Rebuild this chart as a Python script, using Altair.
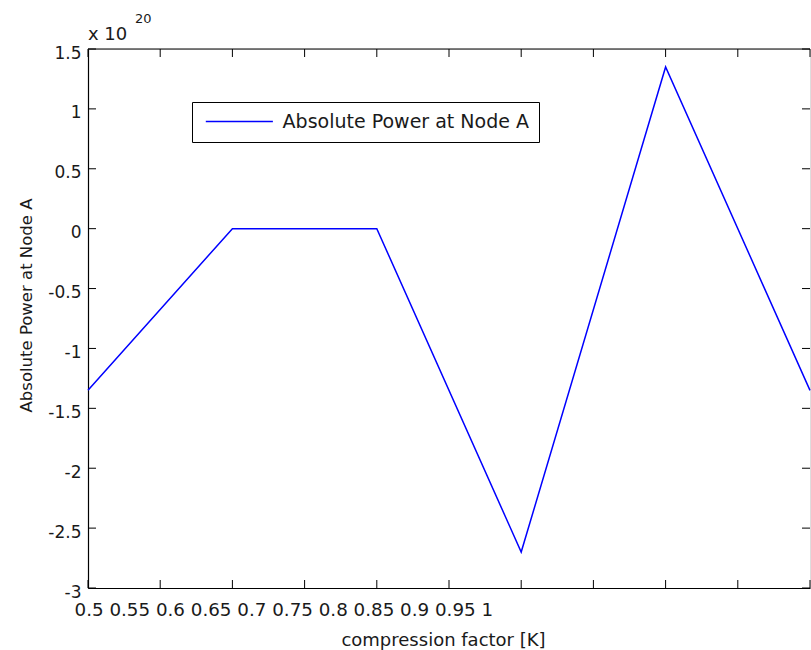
import altair as alt
import pandas as pd

# ---- data (power values in units of 10^20) ----
k_values = [0.5, 0.6, 0.7, 0.8, 0.9, 1.0]
power_values = [-1.35, 0.0, 0.0, -2.7, 1.35, -1.35]
series_name = ["Absolute Power at Node A"]
x_ticks = [0.5, 0.55, 0.6, 0.65, 0.7, 0.75, 0.8, 0.85, 0.9, 0.95, 1.0]
y_ticks = [1.5, 1.0, 0.5, 0.0, -0.5, -1.0, -1.5, -2.0, -2.5, -3.0]
x_tick_text = "0.5 0.55 0.6 0.65 0.7 0.75 0.8 0.85 0.9 0.95 1"
exp_base = ["x 10"]
exp_power = ["20"]

W, H = 722, 539
FONT = "DejaVu Sans"
TXT = "#1a1a1a"

df = pd.DataFrame({"k": k_values, "p": power_values,
                   "series": series_name * len(k_values)})
xt = pd.DataFrame({"v": x_ticks})
yt = pd.DataFrame({"v": y_ticks})
one = pd.DataFrame({"a": [0]})

xs = alt.Scale(domain=[0.5, 1.0], nice=False, zero=False)
ys = alt.Scale(domain=[-3.0, 1.5], nice=False, zero=False)

line = alt.Chart(df).mark_line(strokeWidth=1.5).encode(
    x=alt.X("k:Q", scale=xs, axis=alt.Axis(
        values=[0.5], labelExpr=f"'{x_tick_text}'", labelAlign="left",
        labelFlush=False, labelOverlap=False, labelBound=False,
        labelOffset=-14, ticks=False, tickSize=0, labelPadding=13,
        labelFont=FONT, labelFontSize=18.3, labelColor=TXT, labelLimit=1000,
        title="compression factor [K]", titleFont=FONT, titleFontSize=18,
        titleFontWeight="normal", titleColor=TXT, titleY=57,
        titleBaseline="alphabetic", titleAlign="center", titleX=W / 2 - 6,
        grid=False, domainColor="black", domainWidth=1.2)),
    y=alt.Y("p:Q", scale=ys, axis=alt.Axis(
        values=y_ticks, labelExpr="'' + datum.value", ticks=False, tickSize=0,
        labelPadding=7, labelOffset=4, labelFont=FONT, labelFontSize=17,
        labelColor=TXT, labelOverlap=False, labelBound=False, labelFlush=False,
        title="Absolute Power at Node A", titleFont=FONT, titleFontSize=16.5,
        titleFontWeight="normal", titleColor=TXT, titleX=-57, titleY=256,
        titleAngle=270, titleBaseline="alphabetic", titleAlign="center",
        grid=False, domainColor="black", domainWidth=1.2)),
    color=alt.Color("series:N",
                    scale=alt.Scale(domain=series_name, range=["#0000ff"]),
                    legend=alt.Legend(
                        title=None, orient="none", legendX=104, legendY=53,
                        strokeColor="black", fillColor="white", padding=10,
                        symbolType="M-0.85,0H9.15", symbolSize=180,
                        symbolStrokeWidth=1.5, labelOffset=61.6, labelLimit=1000,
                        labelFont=FONT, labelFontSize=19, labelColor=TXT)),
)

left_ticks = alt.Chart(yt).mark_rule(color="black").encode(
    y=alt.Y("v:Q", scale=ys, axis=None), x=alt.value(0), x2=alt.value(8))
right_ticks = alt.Chart(yt).mark_rule(color="black").encode(
    y=alt.Y("v:Q", scale=ys, axis=None), x=alt.value(W - 8), x2=alt.value(W))
bottom_ticks = alt.Chart(xt).mark_rule(color="black").encode(
    x=alt.X("v:Q", scale=xs, axis=None), y=alt.value(H - 8), y2=alt.value(H))
top_ticks = alt.Chart(xt).mark_rule(color="black").encode(
    x=alt.X("v:Q", scale=xs, axis=None), y=alt.value(0), y2=alt.value(8))
top_spine = alt.Chart(one).mark_rule(color="black", strokeWidth=1.2).encode(
    x=alt.value(0), x2=alt.value(W), y=alt.value(0))

exp1 = alt.Chart(pd.DataFrame({"t": exp_base})).mark_text(
    align="left", baseline="alphabetic", font=FONT, fontSize=18, color=TXT
).encode(x=alt.value(0), y=alt.value(-9), text="t:N")
exp2 = alt.Chart(pd.DataFrame({"t": exp_power})).mark_text(
    align="left", baseline="alphabetic", font=FONT, fontSize=13, color=TXT
).encode(x=alt.value(47), y=alt.value(-26), text="t:N")

chart = alt.layer(
    line, left_ticks, right_ticks, bottom_ticks, top_ticks, top_spine, exp1, exp2
).resolve_axis(x="independent", y="independent").properties(
    width=W, height=H,
    autosize=alt.AutoSizeParams(type="none"),
    padding={"left": 88, "top": 49, "right": 1, "bottom": 62},
).configure_view(stroke="transparent").configure(background="white")

chart.save("out.html", embed_options={"renderer": "svg", "actions": False})
